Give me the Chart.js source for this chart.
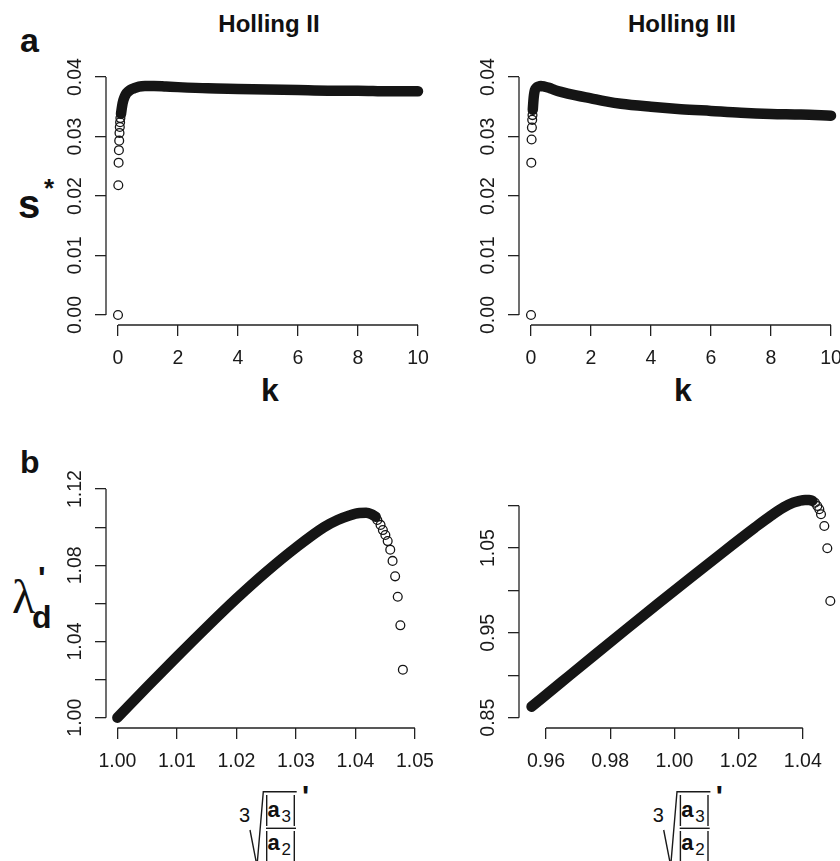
<!DOCTYPE html>
<html>
<head>
<meta charset="utf-8">
<script src="https://cdn.jsdelivr.net/npm/chart.js@4.4.1/dist/chart.umd.min.js"></script>
<style>
  html, body { margin: 0; padding: 0; background: #fff; width: 840px; height: 861px; overflow: hidden; }
  body { position: relative; font-family: "Liberation Sans", Arial, sans-serif; color: #111; }
  .box { position: absolute; }
  .t { position: absolute; line-height: 1; white-space: nowrap; }
  .b { font-weight: bold; }
  .c { text-align: center; width: 200px; }
  svg { position: absolute; left: 0; top: 0; }
</style>
</head>
<body>
<div class="t b c" style="left:169px; top:12px; font-size:24px;">Holling II</div>
<div class="t b c" style="left:582px; top:12px; font-size:24px;">Holling III</div>
<div class="t b" style="left:20px; top:23px; font-size:34px;">a</div>
<div class="t b" style="left:20px; top:446px; font-size:32px;">b</div>

<div class="t b" style="left:18px; top:184px; font-size:40px;">s</div>
<div class="t b" style="left:44px; top:175px; font-size:26px;">*</div>
<div class="t b c" style="left:170px; top:374px; font-size:32px;">k</div>
<div class="t b c" style="left:583px; top:374px; font-size:32px;">k</div>

<div class="t" style="left:12px; top:573px; font-size:48px; font-family:'Liberation Serif', serif;">λ</div>
<div class="t b" style="left:32px; top:601px; font-size:32px;">d</div>
<div class="t b" style="left:38px; top:562px; font-size:32px;">'</div>

<div id="formulas"></div>

<div class="box" id="boxA1"><canvas id="chartA1"></canvas></div>
<div class="box" id="boxA2"><canvas id="chartA2"></canvas></div>
<div class="box" id="boxB1"><canvas id="chartB1"></canvas></div>
<div class="box" id="boxB2"><canvas id="chartB2"></canvas></div>

<script>
// ---- panel a : s* against k ----
const kTicks = [0, 2, 4, 6, 8, 10];
const kLabels = ['0', '2', '4', '6', '8', '10'];
const sTicks = [0, 0.01, 0.02, 0.03, 0.04];
const sLabels = ['0.00', '0.01', '0.02', '0.03', '0.04'];

// Holling II
const h2SparseK = [0, 0.01, 0.02, 0.03, 0.04, 0.05, 0.06, 0.07, 0.08];
const h2SparseS = [0, 0.0218, 0.0256, 0.0277, 0.0293, 0.0306, 0.0316, 0.0324, 0.0331];
const h2BandK = [0.1, 0.14, 0.18, 0.23, 0.29, 0.4, 0.53, 0.7, 0.9, 1.2, 1.6, 2, 3, 4, 5, 6, 7, 8, 9, 10];
const h2BandS = [0.0338, 0.0352, 0.0361, 0.0368, 0.0373, 0.0378, 0.0381, 0.0384, 0.0385, 0.0385,
                 0.0384, 0.0383, 0.0381, 0.0380, 0.0379, 0.0378, 0.0377, 0.0377, 0.0376, 0.0376];

// Holling III
const h3SparseK = [0, 0.01, 0.02, 0.03, 0.04, 0.05];
const h3SparseS = [0, 0.0256, 0.0295, 0.0315, 0.0328, 0.0336];
const h3BandK = [0.06, 0.08, 0.1, 0.13, 0.18, 0.25, 0.33, 0.45, 0.6, 0.8, 1, 1.5, 2, 2.5, 3, 4, 5, 6, 7, 8, 9, 10];
const h3BandS = [0.0345, 0.0360, 0.0370, 0.0378, 0.0382, 0.0384, 0.0385, 0.0384, 0.0382, 0.0378, 0.0375,
                 0.0369, 0.0364, 0.0359, 0.0355, 0.0350, 0.0346, 0.0343, 0.0340, 0.0338, 0.0337, 0.0335];

// ---- panel b : lambda_d against cube root of |a3|/|a2| ----
const r2Ticks = [1.00, 1.01, 1.02, 1.03, 1.04, 1.05];
const r2Labels = ['1.00', '1.01', '1.02', '1.03', '1.04', '1.05'];
const l2Ticks = [1.00, 1.02, 1.04, 1.06, 1.08, 1.10, 1.12];
const l2Labels = ['1.00', '', '1.04', '', '1.08', '', '1.12'];
const r3Ticks = [0.96, 0.98, 1.00, 1.02, 1.04];
const r3Labels = ['0.96', '0.98', '1.00', '1.02', '1.04'];
const l3Ticks = [0.85, 0.90, 0.95, 1.00, 1.05, 1.10];
const l3Labels = ['0.85', '', '0.95', '', '1.05', ''];

const b2BandX = [1.000, 1.005, 1.010, 1.015, 1.020, 1.025, 1.030, 1.0347, 1.037, 1.039, 1.0407, 1.0418, 1.0427, 1.0434];
const b2BandY = [1.000, 1.0162, 1.0320, 1.0475, 1.0625, 1.0765, 1.0893, 1.1000, 1.1038, 1.1062, 1.1075, 1.1076, 1.1068, 1.1055];
const b2SparseX = [1.04368, 1.04422, 1.04461, 1.04503, 1.04542, 1.04585, 1.04624, 1.04667, 1.04711, 1.04755, 1.04797];
const b2SparseY = [1.1038, 1.1012, 1.0985, 1.0959, 1.0927, 1.0882, 1.0823, 1.0742, 1.0635, 1.0485, 1.0252];

const b3BandX = [0.9555, 0.965, 0.975, 0.985, 0.995, 1.005, 1.015, 1.025, 1.030, 1.034, 1.037, 1.039, 1.0407, 1.042, 1.043];
const b3BandY = [0.863, 0.8925, 0.9235, 0.9543, 0.9848, 1.0150, 1.0448, 1.0740, 1.0880, 1.0980, 1.1035, 1.1058, 1.1068, 1.1068, 1.1058];
const b3SparseX = [1.04380, 1.04452, 1.04514, 1.04567, 1.04670, 1.04763, 1.04857];
const b3SparseY = [1.1035, 1.0996, 1.0958, 1.0899, 1.0761, 1.0498, 0.9876];

Chart.defaults.font.family = '"Liberation Sans", Arial, sans-serif';
Chart.defaults.color = '#1a1a1a';

const INK = '#151515';
const Y_W = 100, X_H = 80, PAD_T = 20, PAD_R = 20;

function pts(xs, ys) {
  return xs.map((x, i) => ({ x: x, y: ys[i] }));
}

// R style axis line: only from first to last tick
const rAxes = {
  id: 'rAxes',
  afterDraw(chart) {
    const ctx = chart.ctx, a = chart.chartArea;
    const x = chart.scales.x, y = chart.scales.y;
    ctx.save();
    ctx.strokeStyle = '#222';
    ctx.lineWidth = 1.3;
    ctx.beginPath();
    ctx.moveTo(x.getPixelForValue(x.ticks[0].value), a.bottom);
    ctx.lineTo(x.getPixelForValue(x.ticks[x.ticks.length - 1].value), a.bottom);
    ctx.moveTo(a.left, y.getPixelForValue(y.ticks[0].value));
    ctx.lineTo(a.left, y.getPixelForValue(y.ticks[y.ticks.length - 1].value));
    ctx.stroke();
    ctx.restore();
  }
};

function axis(min, max, ticks, labels, isY) {
  return {
    type: 'linear',
    min: min,
    max: max,
    afterBuildTicks: s => { s.ticks = ticks.map(v => ({ value: v })); },
    afterFit: s => { if (isY) s.width = Y_W; else s.height = X_H; },
    ticks: {
      autoSkip: false,
      callback: (v, i) => labels[i],
      font: { size: 19.5 },
      padding: isY ? 0 : 11,
      minRotation: isY ? 90 : 0,
      maxRotation: isY ? 90 : 0,
      crossAlign: isY ? 'center' : 'near'
    },
    grid: { drawOnChartArea: false, tickLength: 11, color: '#222', lineWidth: 1.3 },
    border: { display: false }
  };
}

function makeChart(id, area, xr, yr, band, sparse) {
  const box = document.getElementById('box' + id);
  const cv = document.getElementById('chart' + id);
  const w = area.right - area.left + Y_W + PAD_R;
  const h = area.bottom - area.top + X_H + PAD_T;
  box.style.left = (area.left - Y_W) + 'px';
  box.style.top = (area.top - PAD_T) + 'px';
  cv.width = w;
  cv.height = h;
  return new Chart(cv, {
    type: 'line',
    data: {
      datasets: [
        {
          data: band,
          showLine: true,
          borderColor: INK,
          borderWidth: 10.5,
          borderCapStyle: 'round',
          borderJoinStyle: 'round',
          cubicInterpolationMode: 'monotone',
          pointRadius: 0,
          fill: false
        },
        {
          data: sparse,
          showLine: false,
          pointStyle: 'circle',
          pointRadius: 4.4,
          pointBorderWidth: 1.3,
          pointBorderColor: INK,
          pointBackgroundColor: 'rgba(0,0,0,0)'
        }
      ]
    },
    options: {
      responsive: false,
      animation: false,
      layout: { padding: { top: PAD_T, right: PAD_R, left: 0, bottom: 0 } },
      plugins: { legend: { display: false }, tooltip: { enabled: false } },
      scales: {
        x: axis(xr[0], xr[1], xr[2], xr[3], false),
        y: axis(yr[0], yr[1], yr[2], yr[3], true)
      }
    },
    plugins: [rAxes]
  });
}

makeChart('A1', { left: 106, top: 76, right: 430, bottom: 325 },
  [-0.4, 10.4, kTicks, kLabels], [-0.00168, 0.04017, sTicks, sLabels],
  pts(h2BandK, h2BandS), pts(h2SparseK, h2SparseS));

makeChart('A2', { left: 519, top: 76, right: 843, bottom: 325 },
  [-0.4, 10.4, kTicks, kLabels], [-0.00168, 0.04017, sTicks, sLabels],
  pts(h3BandK, h3BandS), pts(h3SparseK, h3SparseS));

makeChart('B1', { left: 106, top: 488, right: 425, bottom: 728 },
  [0.99809, 1.05021, r2Ticks, r2Labels], [0.99459, 1.12058, l2Ticks, l2Labels],
  pts(b2BandX, b2BandY), pts(b2SparseX, b2SparseY));

makeChart('B2', { left: 519, top: 490, right: 842, bottom: 728 },
  [0.95159, 1.05221, r3Ticks, r3Labels], [0.83785, 1.11851, l3Ticks, l3Labels],
  pts(b3BandX, b3BandY), pts(b3SparseX, b3SparseY));

// x-axis title of panel b: cube root of |a3| / |a2|, with a prime
function formula(dx) {
  const host = document.getElementById('formulas');
  const NS = 'http://www.w3.org/2000/svg';
  const svg = document.createElementNS(NS, 'svg');
  svg.setAttribute('width', 840);
  svg.setAttribute('height', 861);
  const lines = [
    'M' + (250 + dx) + ',830 L' + (257 + dx) + ',866 L' + (263.3 + dx) + ',791.7 L' + (296.7 + dx) + ',791.7',
    'M' + (266.7 + dx) + ',795 V826 M' + (294.3 + dx) + ',795 V826',
    'M' + (266 + dx) + ',828.3 H' + (296 + dx),
    'M' + (266.7 + dx) + ',831 V866 M' + (294.3 + dx) + ',831 V866'
  ];
  lines.forEach(d => {
    const p = document.createElementNS(NS, 'path');
    p.setAttribute('d', d);
    p.setAttribute('fill', 'none');
    p.setAttribute('stroke', '#1a1a1a');
    p.setAttribute('stroke-width', '1.4');
    svg.appendChild(p);
  });
  host.appendChild(svg);
  const parts = [
    ['3', 239, 805, 20, false],
    ['a', 267.5, 799.4, 22, true],
    ['3', 281.5, 807.6, 17, false],
    ['a', 267.5, 832.4, 22, true],
    ['2', 281.5, 840.6, 17, false],
    ["'", 302, 781, 30, true]
  ];
  parts.forEach(p => {
    const d = document.createElement('div');
    d.className = 't' + (p[4] ? ' b' : '');
    d.textContent = p[0];
    d.style.left = (p[1] + dx) + 'px';
    d.style.top = p[2] + 'px';
    d.style.fontSize = p[3] + 'px';
    host.appendChild(d);
  });
}
formula(0);
formula(413.7);
</script>
</body>
</html>
